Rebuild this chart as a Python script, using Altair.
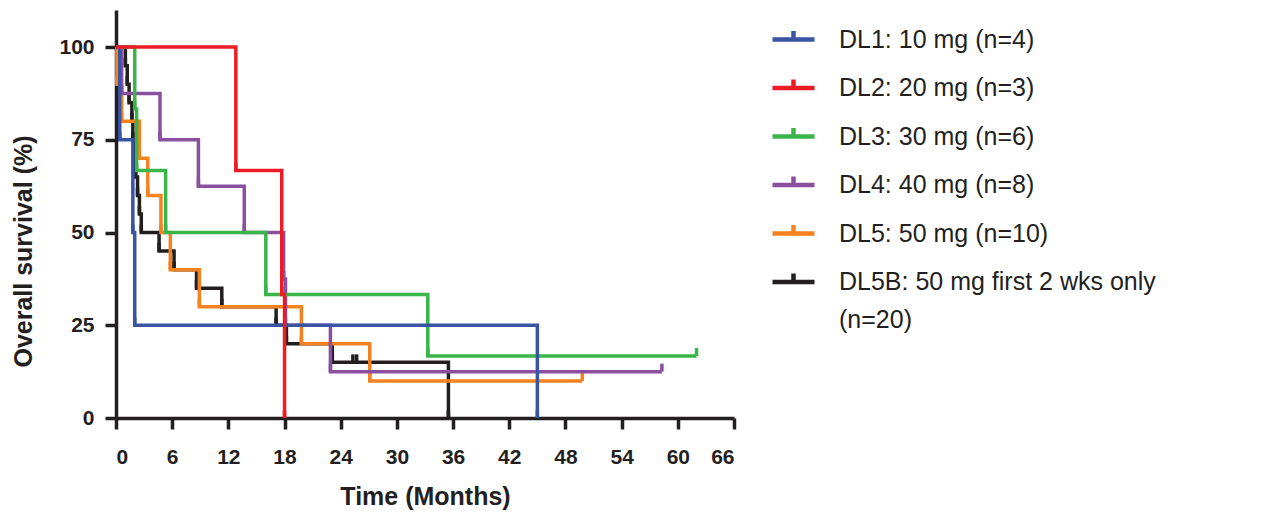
import altair as alt
import pandas as pd

# ---- data ----
SERIES = [
    "DL1: 10 mg (n=4)",
    "DL2: 20 mg (n=3)",
    "DL3: 30 mg (n=6)",
    "DL4: 40 mg (n=8)",
    "DL5: 50 mg (n=10)",
    "DL5B: 50 mg first 2 wks only (n=20)",
]
COLORS = ["#3a54a4", "#ed1c24", "#3ab54a", "#8a4f9e", "#f6821f", "#231f20"]

DL1_T = [0, 0.4, 1.8, 2.0, 45.0]
DL1_S = [100, 75, 50, 25, 0]
DL2_T = [0, 12.8, 17.7, 18.0]
DL2_S = [100, 66.7, 33.3, 0]
DL3_T = [0, 2.0, 2.2, 5.3, 16.0, 33.3, 62.0]
DL3_S = [100, 83.3, 66.7, 50, 33.3, 16.7, 16.7]
DL4_T = [0, 0.6, 4.7, 8.8, 13.7, 17.9, 18.1, 22.9, 58.3]
DL4_S = [100, 87.5, 75, 62.5, 50, 37.5, 25, 12.5, 12.5]
DL5_T = [0, 0.1, 0.6, 2.5, 3.4, 4.8, 5.8, 8.9, 19.8, 27.1, 49.8]
DL5_S = [100, 90, 80, 70, 60, 50, 40, 30, 20, 10, 10]
DL5B_T = [0, 1.0, 1.2, 1.4, 1.7, 1.8, 2.0, 2.1, 2.3, 2.5, 2.7, 4.6, 6.2, 8.6,
          11.3, 17.1, 18.2, 23.1, 25.3, 25.7, 35.5]
DL5B_S = [100, 95, 90, 85, 80, 75, 70, 65, 60, 55, 50, 45, 40, 35,
          30, 25, 20, 15, 15, 15, 0]

X_TICKS = [0, 6, 12, 18, 24, 30, 36, 42, 48, 54, 60, 66]
Y_TICKS = [0, 25, 50, 75, 100]

TIMES = [DL1_T, DL2_T, DL3_T, DL4_T, DL5_T, DL5B_T]
SURVS = [DL1_S, DL2_S, DL3_S, DL4_S, DL5_S, DL5B_S]

rows = []
for name, ts, ss in zip(SERIES, TIMES, SURVS):
    for i, (t, s) in enumerate(zip(ts, ss)):
        rows.append({"series": name, "time": t, "surv": s, "i": i})
df = pd.DataFrame(rows)

# ---- styling ----
FONT = "Liberation Sans, Arial, Helvetica, sans-serif"
INK = "#231f20"

SYMBOL = "M-1,0H1M0,0V-0.4"

head, tail = SERIES[5].rsplit(" ", 1)
is_last = f"datum.label == '{SERIES[5]}'"
label_expr = f"{is_last} ? ['{head}', '{tail}'] : datum.label"

color = alt.Color(
    "series:N",
    scale=alt.Scale(domain=SERIES, range=COLORS),
    legend=alt.Legend(
        title=None,
        orient="none",
        legendX=654,
        legendY=6,
        padding=0,
        symbolType=SYMBOL,
        symbolSize=1764,
        symbolStrokeWidth=4.5,
        symbolFillColor="transparent",
        labelFont=FONT,
        labelFontSize=25,
        labelColor=INK,
        labelOffset=22,
        labelLimit=800,
        rowPadding=11.5,
        labelExpr=label_expr,
    ),
)
x = alt.X(
    "time:Q",
    scale=alt.Scale(domain=[0, 66], nice=False, zero=False),
    axis=alt.Axis(values=X_TICKS, title="Time (Months)", labelPadding=17,
                  titleY=86, titleBaseline="alphabetic"),
)
y = alt.Y(
    "surv:Q",
    scale=alt.Scale(domain=[0, 110], nice=False),
    axis=alt.Axis(values=Y_TICKS, title="Overall survival (%)", labelPadding=11,
                  titleX=-85, titleY=241, titleBaseline="alphabetic", titleAngle=270,
                  titleAlign="center"),
)

base = alt.Chart(df)
DRAW_ORDER = [5, 4, 3, 2, 0, 1]
layers = []
for k in DRAW_ORDER:
    sub = base.transform_filter(alt.datum.series == SERIES[k])
    layers.append(
        sub.mark_line(interpolate="step-after", strokeWidth=3.5, strokeCap="butt")
        .encode(x=x, y=y, color=color, order="i:Q")
    )
    layers.append(
        sub.transform_filter(alt.datum.time > 0)
        .mark_tick(orient="vertical", size=8, thickness=3.5, yOffset=-4, opacity=1)
        .encode(x=x, y=y, color=color)
    )

chart = (
    alt.layer(*layers)
    .properties(
        width=618,
        height=408,
        autosize=alt.AutoSizeParams(type="none"),
        padding={"left": 108, "top": 2, "right": 530, "bottom": 93},
    )
    .configure(style={"guide-label": {"lineHeight": 38}})
    .configure_view(stroke=None)
    .configure_axis(
        grid=False,
        domainColor=INK,
        domainWidth=3.5,
        tickColor=INK,
        tickWidth=3.5,
        tickSize=11,
        labelFont=FONT,
        labelFontSize=21,
        labelFontWeight="bold",
        labelColor=INK,
        titleFont=FONT,
        titleFontSize=25,
        titleFontWeight="bold",
        titleColor=INK,
    )
)

chart.save("out.html", embed_options={"renderer": "svg", "actions": False})
